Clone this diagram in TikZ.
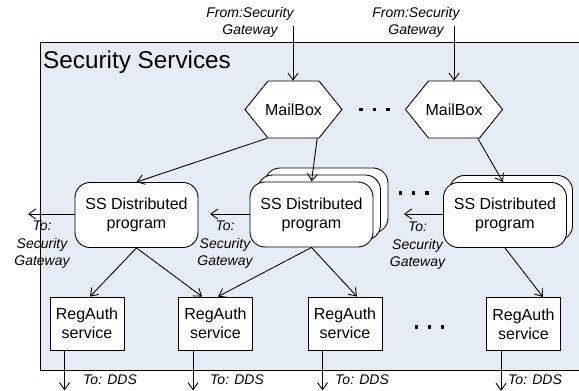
\documentclass[tikz,border=0pt]{standalone}
\usepackage{fontspec}
\setmainfont{Liberation Sans}
\usetikzlibrary{arrows.meta,calc}
\definecolor{panel}{HTML}{E6ECF6}

\tikzset{
  arr/.style={-{Straight Barb[length=7pt,width=10pt]}, line width=0.9pt},
  maintxt/.style={font=\fontsize{16}{19}\selectfont, align=center},
  lbl/.style={font=\fontsize{14}{17.5}\selectfont\itshape, align=center, inner sep=0pt},
  ssbox/.style={draw, line width=0.9pt, fill=white, rounded corners=15pt,
                minimum width=123pt, minimum height=65pt, maintxt},
  rabox/.style={draw, line width=0.9pt, fill=white,
                minimum width=74pt, minimum height=53pt, maintxt},
  hexcore/.style={minimum width=97pt, minimum height=57pt, maintxt},
  bigdot/.style={fill=black, minimum size=3.2pt, inner sep=0pt},
}

% hexagonal mailbox: name, centre
\newcommand\mailhex[2]{%
  \coordinate (#1c) at #2;
  \draw[line width=0.9pt, fill=white]
    ($(#1c)+(-48.5,0)$) -- ($(#1c)+(-25.5,-28.5)$) -- ($(#1c)+(25.5,-28.5)$)
    -- ($(#1c)+(48.5,0)$) -- ($(#1c)+(25.5,28.5)$) -- ($(#1c)+(-25.5,28.5)$) -- cycle;
  \node[hexcore] (#1) at (#1c) {MailBox};
}

\begin{document}
\begin{tikzpicture}[x=1pt,y=-1pt]
\useasboundingbox (0,0) rectangle (579,391);

% service panel
\fill[panel] (40,42) rectangle (585,370);
\draw[line width=0.9pt] (585,42) -- (40,42) -- (40,370) -- (585,370);
\node[anchor=base west, font=\fontsize{24.3}{28}\selectfont, inner sep=0pt] (title)
  at (43,68) {Security Services};

% mailboxes
\mailhex{mb1}{(293.5,109.5)}
\mailhex{mb2}{(454,109.5)}

% incoming from the gateway
\node[lbl] (from1) at (250,22.5) {From:Security\\Gateway};
\node[lbl] (from2) at (416,22.5) {From:Security\\Gateway};
\coordinate (in1) at (293,26);
\coordinate (in2) at (454,26);
\draw[arr] (in1) -- (in1 |- mb1.north);
\draw[arr] (in2) -- (in2 |- mb2.north);

% distributed programs
\node[ssbox] (ss1) at (136.5,215) {SS Distributed\\program};
\node[ssbox] (ss2c) at (326.5,200.5) {};
\node[ssbox] (ss2b) at (319,207.5) {};
\node[ssbox] (ss2) at (311.5,214.5) {SS Distributed\\program};
\node[ssbox] (ss3b) at (511,208) {};
\node[ssbox] (ss3) at (505,215) {SS Distributed\\program};

% registration/authorisation services
\node[rabox] (ra1) at (87,323.5) {RegAuth\\service};
\node[rabox] (ra2) at (215.5,323.5) {RegAuth\\service};
\node[rabox] (ra3) at (345,323.5) {RegAuth\\service};
\node[rabox] (ra4) at (523.5,324) {RegAuth\\service};

% ellipses between replicated parts
\foreach \i/\x/\y in {a1/361/109.5, a2/374.5/109.5, a3/388/109.5,
                      b1/400.5/193, b2/413.5/193, b3/427/193,
                      c1/416.5/327, c2/429.5/327, c3/442.5/327}
  \node[bigdot] (dot\i) at (\x,\y) {};

% mailbox to programs
\draw[arr] ([xshift=22.5pt]mb1.south west) -- (ss1.north);
\draw[arr] ([xshift=-25pt]mb1.south east) -- (ss2.north);
\draw[arr] ([xshift=-25pt]mb2.south east) -- ([xshift=-2pt]ss3.north);

% programs to services
\draw[arr] (ss1.south) -- ([xshift=3pt]ra1.north);
\draw[arr] (ss1.south) -- ([xshift=-13.5pt]ra2.north);
\draw[arr] (ss2.south) -- ([xshift=2.5pt]ra2.north);
\draw[arr] (ss2.south) -- ([xshift=12pt]ra3.north);
\draw[arr] (ss3.south) -- ([xshift=19.5pt]ra4.north);

% outgoing to the gateway
\coordinate (g1) at (28,214);
\coordinate (g2) at (210,214);
\coordinate (g3) at (404,214);
\draw[arr] (ss1.west |- g1) -- (g1);
\draw[arr] (ss2.west |- g2) -- (g2);
\draw[arr] (ss3.west |- g3) -- (g3);
\node[lbl] (to1) at (42,245) {To:\\Security\\Gateway};
\node[lbl] (to2) at (225,245) {To:\\Security\\Gateway};
\node[lbl] (to3) at (417.5,246) {To:\\Security\\Gateway};

% outgoing to DDS
\foreach \n in {1,2,3,4}{
  \coordinate (d\n) at ([xshift=15pt]ra\n.south west);
  \draw[arr] (d\n) -- ++(0,40);
}
\node[lbl, anchor=west] (dds1) at (83,380) {To: DDS};
\node[lbl, anchor=west] (dds2) at (210,380) {To: DDS};
\node[lbl, anchor=west] (dds3) at (335,380) {To: DDS};
\node[lbl, anchor=west] (dds4) at (508,380) {To: DDS};
\end{tikzpicture}
\end{document}
